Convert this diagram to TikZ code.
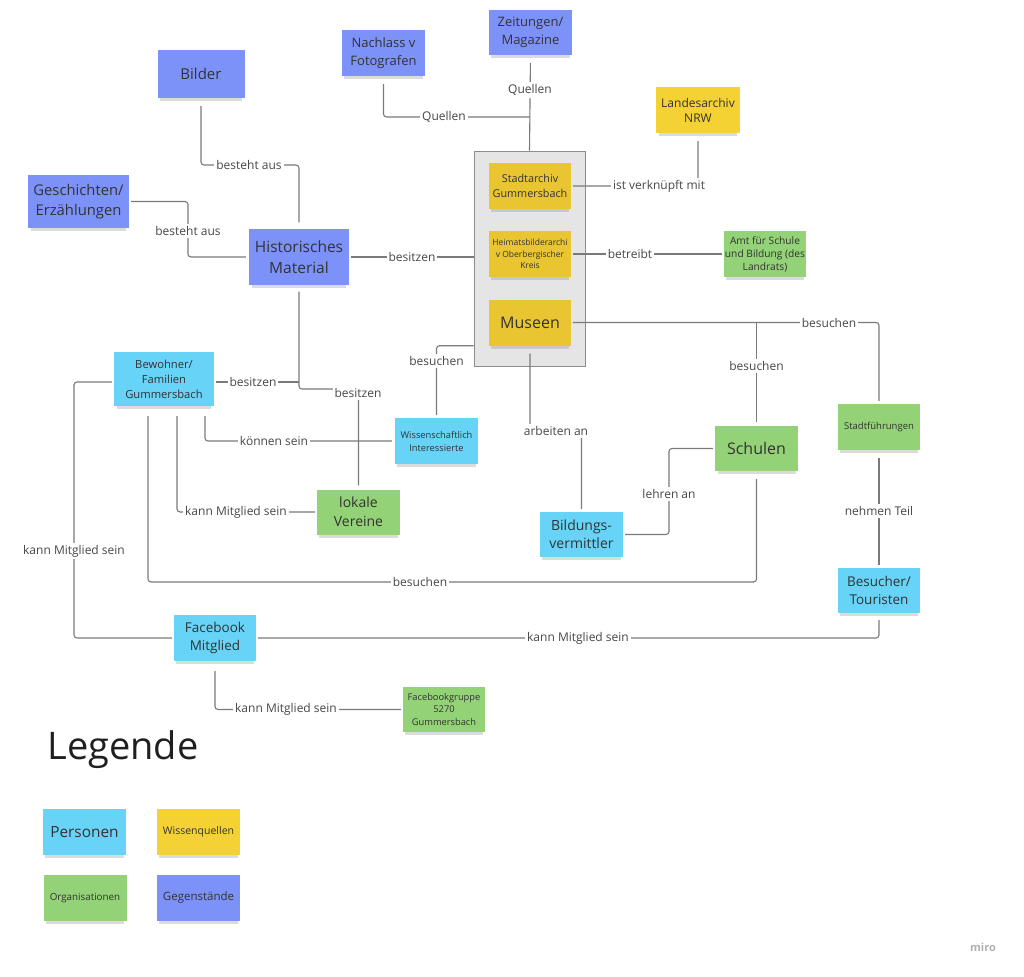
\documentclass[tikz,border=0pt]{standalone}
\usepackage{fontspec}
\setmainfont{Open Sans}
\usetikzlibrary{shadows}
\definecolor{cblue}{HTML}{7D92F8}
\definecolor{ccyan}{HTML}{67D3F6}
\definecolor{cyell}{HTML}{E8C531}
\definecolor{cyell2}{HTML}{F4D233}
\definecolor{cgreen}{HTML}{93D276}
\definecolor{cline}{HTML}{7A7A7A}
\definecolor{ctext}{HTML}{333333}
\begin{document}
\begin{tikzpicture}[x=1pt,y=-1pt,
  sticky/.style={fill=#1, minimum width=82pt, minimum height=46pt, align=center,
    text=ctext, inner sep=1pt,
    drop shadow={shadow xshift=0pt, shadow yshift=-5pt, opacity=0.28, shadow scale=0.94}},
  conn/.style={draw=cline, line width=1.1pt, rounded corners=3pt},
  lbl/.style={fill=white, inner sep=2pt, text=black!72, font=\fontsize{12}{14}\selectfont}]
\useasboundingbox[fill=white] (0,0) rectangle (1024,976);

% container
\node[draw=black!45, fill=black!10, line width=0.8pt, minimum width=111pt, minimum height=215pt, inner sep=0pt] (cont) at (529.5,258.5) {};

% nodes
\node[sticky=cblue, minimum width=83pt, minimum height=45pt, font=\fontsize{13}{18}\selectfont] (zeit) at (530.5,32.5) {Zeitungen/\\Magazine};
\node[sticky=cblue, minimum width=83pt, font=\fontsize{13}{18}\selectfont] (nach) at (383.5,53) {Nachlass v\\Fotografen};
\node[sticky=cblue, minimum width=87pt, minimum height=48pt, font=\fontsize{15}{20}\selectfont] (bild) at (201,74) {Bilder};
\node[sticky=cyell2, minimum width=84pt, font=\fontsize{12}{15}\selectfont] (land) at (698,110) {Landesarchiv\\NRW};
\node[sticky=cblue, minimum width=101pt, minimum height=53pt, font=\fontsize{14.8}{20}\selectfont] (gesch) at (78.5,201.5) {Geschichten/\\Erzählungen};
\node[sticky=cblue, minimum width=100pt, minimum height=55pt, font=\fontsize{15.5}{21}\selectfont] (hist) at (299,257) {Historisches\\Material};
\node[sticky=cyell, font=\fontsize{10.8}{14.3}\selectfont] (stadt) at (530,186) {Stadtarchiv\\Gummersbach};
\node[sticky=cyell, font=\fontsize{8.5}{11.5}\selectfont] (heimat) at (530,254) {Heimatsbilderarchi\\v Oberbergischer\\Kreis};
\node[sticky=cyell, font=\fontsize{16}{20}\selectfont] (mus) at (530,322.5) {Museen};
\node[sticky=cgreen, minimum height=45pt, font=\fontsize{10.2}{13}\selectfont] (amt) at (765,254) {Amt für Schule\\und Bildung (des\\Landrats)};
\node[sticky=ccyan, minimum width=100pt, minimum height=54pt, font=\fontsize{11.2}{15}\selectfont] (bew) at (164,379) {Bewohner/\\Familien\\Gummersbach};
\node[sticky=ccyan, minimum width=83pt, font=\fontsize{9.3}{13}\selectfont] (wi) at (436.5,441) {Wissenschaftlich\\Interessierte};
\node[sticky=cgreen, minimum width=83pt, minimum height=45pt, font=\fontsize{14}{19}\selectfont] (lv) at (358.5,512) {lokale\\Vereine};
\node[sticky=cgreen, minimum width=83pt, minimum height=45pt, font=\fontsize{16}{20}\selectfont] (schul) at (756.5,448.5) {Schulen};
\node[sticky=cgreen, font=\fontsize{9.5}{12}\selectfont] (sf) at (879,427) {Stadtführungen};
\node[sticky=ccyan, minimum width=83pt, minimum height=45pt, font=\fontsize{14}{18}\selectfont] (bv) at (581.5,534.5) {Bildungs-\\vermittler};
\node[sticky=ccyan, minimum height=45pt, font=\fontsize{13.5}{18}\selectfont] (bes) at (879,590.5) {Besucher/\\Touristen};
\node[sticky=ccyan, font=\fontsize{13.5}{18}\selectfont] (fb) at (215,638) {Facebook\\Mitglied};
\node[sticky=cgreen, minimum height=45pt, font=\fontsize{9.3}{12.8}\selectfont] (fbg) at (444,709.5) {Facebookgruppe\\5270\\Gummersbach};

% legend
\node[text=black!88, font=\fontsize{38}{40}\selectfont, inner sep=0pt] (leg) at (123,750) {Legende};
\node[sticky=ccyan, minimum width=83pt, font=\fontsize{15.4}{18}\selectfont] (lp) at (84.5,832) {Personen};
\node[sticky=cyell2, minimum width=83pt, font=\fontsize{10.5}{12}\selectfont] (lw) at (198.5,832) {Wissenquellen};
\node[sticky=cgreen, minimum width=83pt, font=\fontsize{9.8}{12}\selectfont] (lo) at (85,898) {Organisationen};
\node[sticky=cblue, minimum width=83pt, font=\fontsize{11.5}{14}\selectfont] (lg) at (198.5,898) {Gegenstände};
\node[text=black!30, font=\fontsize{11}{13}\selectfont\bfseries] (miro) at (983,947) {miro};

% bend coordinates
\coordinate (jq) at (530,117);
\coordinate (b3) at (249,165);
\coordinate (b4) at (188,231);
\coordinate (b10) at (556,431);
\coordinate (b12) at (330,389);
\coordinate (b12a) at (253,382);
\coordinate (b15) at (420,582);
\coordinate (b16) at (74,551);
\coordinate (b19) at (669,494);

% connectors
\draw[conn, shorten <=8pt] (zeit.south) -- (cont.north);
\draw[conn, shorten <=8pt] (nach.south) |- (jq);
\draw[conn, shorten <=8pt, shorten >=7pt] (bild.south) |- (b3) -| (hist.north);
\draw[conn, shorten <=2pt, shorten >=3pt] (gesch.east) -| (b4) |- (hist.west);
\draw[conn, shorten <=2pt] (hist.east) -- (hist.east -| cont.west);
\draw[conn, shorten <=2pt, shorten >=8pt] (stadt.east) -| (land.south);
\draw[conn, shorten <=2pt, shorten >=2pt] (heimat.east) -- (amt.west);
\draw[conn, shorten <=2pt, shorten >=3pt] (mus.east) -| (sf.north);
\draw[conn, shorten >=4pt] (mus.east -| schul.north) -- (schul.north);
\draw[conn, shorten <=8pt, shorten >=3pt] (mus.south) |- (b10) -| (bv.north);
\draw[conn, shorten >=3pt] (cont.west |- mus.south) -| (wi.north);
\draw[conn, shorten <=7pt, shorten >=4pt] (hist.south) |- (b12) -| (lv.north);
\draw[conn, shorten <=2pt] (bew.east |- b12a) -- (hist.south |- b12a);
\draw[conn, shorten <=10pt, shorten >=3pt] ([xshift=41pt]bew.south) |- (wi.west);
\draw[conn, shorten <=10pt, shorten >=2pt] ([xshift=13pt]bew.south) |- (lv.west);
\draw[conn, shorten <=10pt, shorten >=8pt] ([xshift=-16pt]bew.south) |- (b15) -| (schul.south);
\draw[conn, shorten <=2pt, shorten >=2pt] ([yshift=-3pt]bew.west) -| (b16) |- (fb.west);
\draw[conn, shorten <=2pt, shorten >=7pt] (fb.east) -| (bes.south);
\draw[conn, shorten <=10pt, shorten >=2pt] (fb.south) |- (fbg.west);
\draw[conn, shorten <=2pt, shorten >=2pt] (bv.east) -| (b19) |- (schul.west);
\draw[conn, shorten <=8pt, shorten >=3pt] (sf.south) -- (bes.north);

% labels
\node[lbl] (l1) at (530,90) {Quellen};
\node[lbl] (l2) at (444,117) {Quellen};
\node[lbl] (l3) at (b3) {besteht aus};
\node[lbl] (l4) at (b4) {besteht aus};
\node[lbl] (l5) at (412,257) {besitzen};
\node[lbl] (l6) at (659,186) {ist verknüpft mit};
\node[lbl] (l7) at (630,254) {betreibt};
\node[lbl] (l8) at (829,322.5) {besuchen};
\node[lbl] (l9) at (756.5,366) {besuchen};
\node[lbl] (l10) at (b10) {arbeiten an};
\node[lbl] (l11) at (436.5,361) {besuchen};
\node[lbl] (l12) at (358,393) {besitzen};
\node[lbl] (l12a) at (b12a) {besitzen};
\node[lbl] (l13) at (274,441) {können sein};
\node[lbl] (l14) at (236,512) {kann Mitglied sein};
\node[lbl] (l15) at (b15) {besuchen};
\node[lbl] (l16) at (b16) {kann Mitglied sein};
\node[lbl] (l17) at (578,638) {kann Mitglied sein};
\node[lbl] (l18) at (286,709.5) {kann Mitglied sein};
\node[lbl] (l19) at (b19) {lehren an};
\node[lbl] (l20) at (879,511) {nehmen Teil};
\end{tikzpicture}
\end{document}
